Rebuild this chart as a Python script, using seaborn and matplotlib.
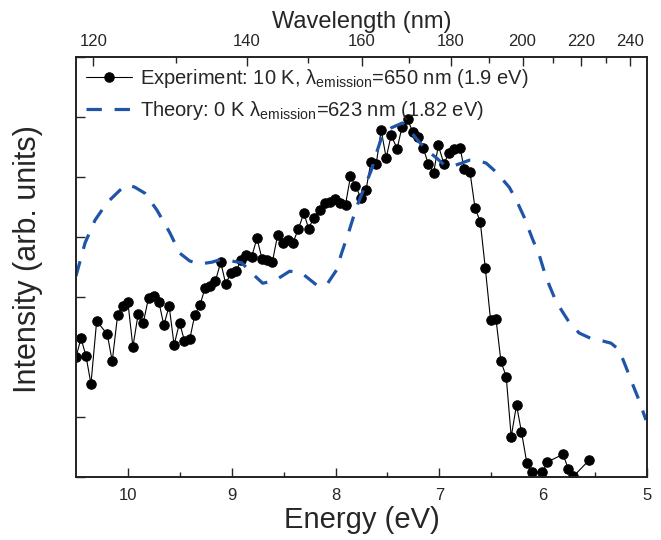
import numpy as np
import pandas as pd
import seaborn as sns
import matplotlib
matplotlib.use("Agg")
import matplotlib.pyplot as plt

# experiment, 10 K
exp_energy = [10.50, 10.452, 10.404, 10.356, 10.301, 10.199, 10.151, 10.099, 10.051, 10.00,
              9.952, 9.901, 9.853, 9.801, 9.753, 9.702, 9.654, 9.603, 9.555, 9.503,
              9.455, 9.404, 9.356, 9.305, 9.257, 9.205, 9.157, 9.106, 9.058, 9.007,
              8.959, 8.907, 8.859, 8.808, 8.757, 8.709, 8.657, 8.609, 8.558, 8.510,
              8.459, 8.411, 8.359, 8.305, 8.260, 8.209, 8.154, 8.106, 8.058, 8.005,
              7.955, 7.904, 7.856, 7.808, 7.755, 7.707, 7.659, 7.609, 7.561, 7.512,
              7.464, 7.407, 7.359, 7.305, 7.257, 7.209, 7.154, 7.106, 7.055, 7.010,
              6.955, 6.911, 6.856, 6.801, 6.760, 6.705, 6.657, 6.606, 6.558, 6.507,
              6.455, 6.407, 6.356, 6.308, 6.257, 6.209, 6.157, 6.109, 6.007, 5.959,
              5.808, 5.760, 5.709, 5.558]
exp_intensity = [2.00, 2.31, 2.02, 1.55, 2.60, 2.38, 1.93, 2.70, 2.85, 2.91,
                 2.17, 2.72, 2.56, 2.99, 3.02, 2.92, 2.53, 2.85, 2.20, 2.57,
                 2.27, 2.30, 2.70, 2.87, 3.15, 3.18, 3.27, 3.58, 3.22, 3.40,
                 3.43, 3.62, 3.70, 3.67, 3.98, 3.64, 3.62, 3.58, 4.03, 3.90,
                 3.95, 3.90, 4.13, 4.40, 4.14, 4.32, 4.45, 4.56, 4.59, 4.63,
                 4.56, 4.54, 5.01, 4.85, 4.65, 4.78, 5.25, 5.21, 5.78, 5.32,
                 5.70, 5.47, 5.84, 5.96, 5.75, 5.66, 5.48, 5.21, 5.07, 5.53,
                 5.21, 5.40, 5.46, 5.49, 5.13, 5.08, 4.49, 4.25, 3.49, 2.62,
                 2.64, 1.93, 1.67, 0.67, 1.20, 0.75, 0.23, 0.08, 0.08, 0.25,
                 0.38, 0.14, 0.01, 0.28]

# theory, 0 K
th_energy = [10.50, 10.413, 10.317, 10.202, 10.077, 10.00, 9.933, 9.837, 9.721, 9.596,
             9.50, 9.404, 9.308, 9.192, 9.096, 9.00, 8.904, 8.808, 8.702, 8.587,
             8.442, 8.327, 8.183, 8.087, 7.990, 7.942, 7.875, 7.798, 7.721, 7.654,
             7.606, 7.548, 7.462, 7.356, 7.288, 7.212, 7.125, 7.029, 6.952, 6.875,
             6.788, 6.712, 6.635, 6.548, 6.452, 6.327, 6.260, 6.183, 6.106, 6.038,
             5.971, 5.875, 5.750, 5.654, 5.529, 5.433, 5.346, 5.269, 5.202, 5.144,
             5.077, 5.010]
th_intensity = [3.35, 3.90, 4.28, 4.57, 4.78, 4.87, 4.83, 4.73, 4.45, 4.07,
                3.73, 3.60, 3.55, 3.58, 3.63, 3.60, 3.57, 3.40, 3.23, 3.27,
                3.43, 3.40, 3.20, 3.20, 3.45, 3.73, 4.07, 4.50, 4.83, 5.12,
                5.40, 5.70, 5.82, 5.90, 5.78, 5.62, 5.45, 5.32, 5.20, 5.18,
                5.23, 5.28, 5.28, 5.23, 5.08, 4.83, 4.62, 4.33, 3.98, 3.70,
                3.32, 2.92, 2.58, 2.40, 2.30, 2.27, 2.23, 2.12, 1.83, 1.57,
                1.28, 0.95]

wl_major = [120, 140, 160, 180, 200, 220, 240]
wl_minor = [130, 150, 170, 190, 210, 230]

exp_label = r"Experiment: 10 K, $\lambda_{\mathrm{emission}}$=650 nm (1.9 eV)"
th_label = r"Theory: 0 K $\lambda_{\mathrm{emission}}$=623 nm (1.82 eV)"

sns.set_style("ticks")
plt.rcParams['font.family'] = ['Liberation Sans', 'DejaVu Sans']
plt.rcParams['mathtext.fontset'] = 'custom'
plt.rcParams['mathtext.rm'] = 'Liberation Sans'
plt.rcParams['mathtext.it'] = 'Liberation Sans:italic'
plt.rcParams['mathtext.default'] = 'rm'

df_exp = pd.DataFrame({"energy": exp_energy, "intensity": exp_intensity})
df_th = pd.DataFrame({"energy": th_energy, "intensity": th_intensity})

fig = plt.figure(figsize=(6.61, 5.40), dpi=100)
ax = fig.add_axes([76 / 661, 63 / 540, 571 / 661, 420 / 540])

sns.lineplot(data=df_exp, x="energy", y="intensity", ax=ax, sort=False, estimator=None,
             color="black", linewidth=0.8, marker="o", markersize=6.8,
             markeredgecolor="black", label=exp_label)
sns.lineplot(data=df_th, x="energy", y="intensity", ax=ax, sort=False, estimator=None,
             color="#1f55a8", linewidth=2.3, linestyle=(0, (4.8, 4.0)), label=th_label)

ax.set_xlim(10.5, 5)
ax.set_ylim(0, 7)
ax.set_xticks([10, 9, 8, 7, 6, 5])
ax.set_xticks(np.arange(5.5, 10.5, 1.0), minor=True)
ax.set_yticks(np.arange(0, 8, 1))
ax.set_yticklabels([])
ax.tick_params(axis="x", which="major", direction="in", length=6.5, width=1, labelsize=12, pad=8)
ax.tick_params(axis="x", which="minor", direction="in", length=3.5, width=1)
ax.tick_params(axis="y", which="major", direction="in", length=6.5, width=1)
ax.set_xlabel("Energy (eV)", fontsize=21, labelpad=2)
ax.set_ylabel("Intensity (arb. units)", fontsize=22)
ax.yaxis.set_label_coords(-0.058, 0.52)

ax2 = ax.twiny()
ax2.set_xlim(ax.get_xlim())
ax2.set_xticks([1239.84 / w for w in wl_major])
ax2.set_xticklabels([str(w) for w in wl_major])
ax2.set_xticks([1239.84 / w for w in wl_minor], minor=True)
ax2.tick_params(axis="x", which="major", direction="in", length=6.5, width=1, labelsize=12, pad=6)
ax2.tick_params(axis="x", which="minor", direction="in", length=4, width=1)
ax2.set_xlabel("Wavelength (nm)", fontsize=17, labelpad=4)

for a in (ax, ax2):
    for s in a.spines.values():
        s.set_linewidth(1.2)
        s.set_color("#222222")

ax.legend(loc="upper left", bbox_to_anchor=(0.0, 1.0), frameon=False, fontsize=14.5,
          handlelength=2.3, handletextpad=0.4, labelspacing=0.45, borderaxespad=0.2,
          borderpad=0.3)

fig.savefig("out.png", dpi=100)
